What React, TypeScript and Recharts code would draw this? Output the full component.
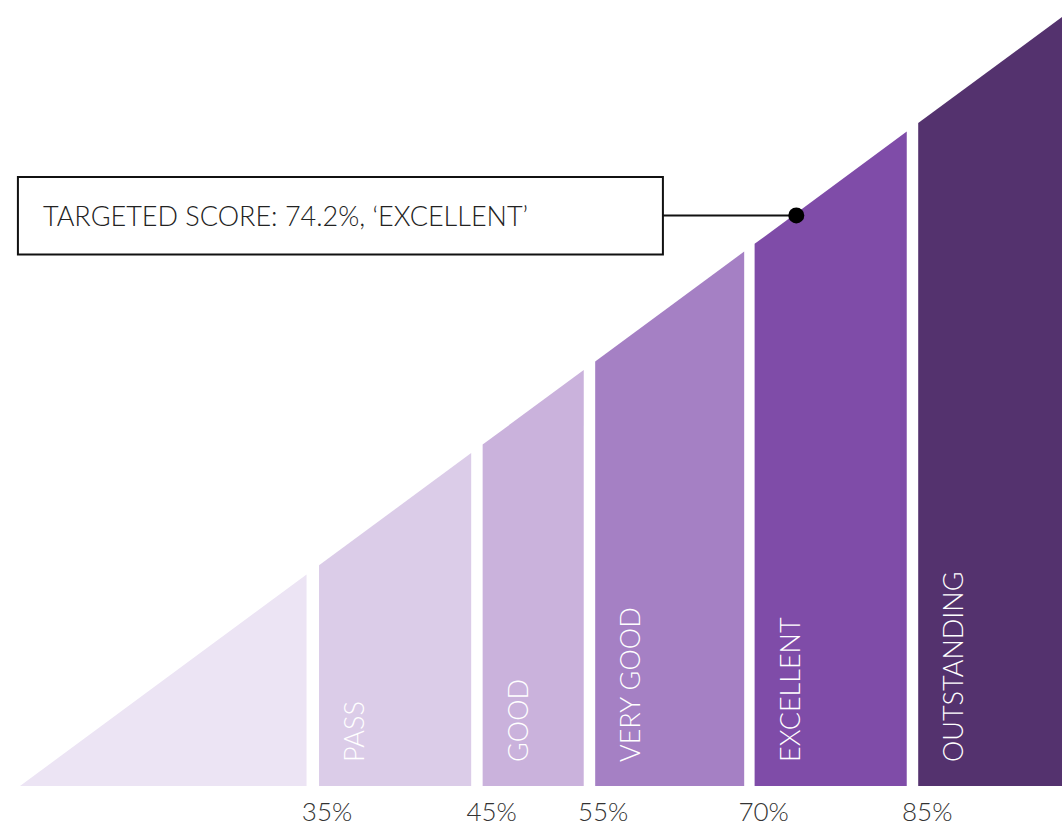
import { ComposedChart, Area, XAxis, YAxis, ReferenceDot, ReferenceLine, ReferenceArea } from 'recharts';

// positions on a 0-100 scale across the width of the triangle
const bandNames = ['', 'PASS', 'GOOD', 'VERY GOOD', 'EXCELLENT', 'OUTSTANDING'];
const bandStart = [0, 28.7, 44.4, 55.2, 70.5, 86.2];
const bandEnd = [27.5, 43.3, 54.1, 69.5, 85.1, 100];
const bandStartTop = [0, 28.7, 44.4, 55.2, 70.5, 86.2];
const bandEndTop = [27.5, 43.3, 54.1, 69.5, 85.1, 100];
const bandColors = ['#ece4f4', '#dbcce8', '#cab2dc', '#a580c4', '#7f4ca8', '#54326e'];

const tickPos = [28.1, 43.9, 54.6, 70.0, 85.7];
const tickLabels = ['35%', '45%', '55%', '70%', '85%'];

const targetPos = 74.5;
const targetScore = 74.2;
const targetText = 'TARGETED SCORE: 74.2%, \u2018EXCELLENT\u2019';
const boxLeft = -0.2;
const boxRight = 61.7;
const boxBottom = 69.1;
const boxTop = 79.2;

const FONT = "Lato, 'Open Sans', sans-serif";

const rows = bandStart.flatMap((s, i) => [
  { pos: s, [`b${i}`]: bandStartTop[i] },
  { pos: bandEnd[i], [`b${i}`]: bandEndTop[i] },
]);

const PercentTick = ({ x, y, payload }) => {
  const idx = tickPos.indexOf(payload.value);
  return (
    <text x={x - 11} y={y} dy={27} textAnchor="start" fontSize={26} fontWeight={300} fontFamily={FONT} fill="#333">
      {tickLabels[idx]}
    </text>
  );
};

const bandLabel = (name) => ({ cx, cy }) => {
  const tx = cx + 45;
  const ty = cy - 24;
  return (
    <text x={tx} y={ty} transform={`rotate(-90 ${tx} ${ty})`} fill="#fff" fontSize={27} fontWeight={300} fontFamily={FONT}>
      {name}
    </text>
  );
};

const BoxLabel = ({ viewBox }) => (
  <text
    x={viewBox.x + 25}
    y={viewBox.y + viewBox.height / 2}
    dy={10}
    fontSize={27}
    fontWeight={300}
    fontFamily={FONT}
    fill="#222"
  >
    {targetText}
  </text>
);

export default function App() {
  return (
    <div style={{ position: 'absolute', left: 0, top: 0, background: '#fff' }}>
      <ComposedChart width={1062} height={829} data={rows} margin={{ top: 17, right: 0, left: 20, bottom: 0 }}>
        <XAxis
          dataKey="pos"
          type="number"
          domain={[0, 100]}
          ticks={tickPos}
          interval={0}
          tick={<PercentTick />}
          axisLine={false}
          tickLine={false}
          height={43}
        />
        <YAxis hide type="number" domain={[0, 100]} />
        {bandNames.map((_, i) => (
          <Area
            key={i}
            dataKey={`b${i}`}
            type="linear"
            fill={bandColors[i]}
            fillOpacity={1}
            stroke="none"
            dot={false}
            activeDot={false}
            connectNulls={false}
            isAnimationActive={false}
          />
        ))}
        {bandNames.map((name, i) =>
          name ? (
            <ReferenceDot key={name} x={bandStart[i]} y={0} r={0} ifOverflow="visible" shape={bandLabel(name)} />
          ) : null
        )}
        <ReferenceArea
          x1={boxLeft}
          x2={boxRight}
          y1={boxBottom}
          y2={boxTop}
          ifOverflow="visible"
          fill="#fff"
          fillOpacity={1}
          stroke="#111"
          strokeWidth={2}
          label={<BoxLabel />}
        />
        <ReferenceLine
          segment={[{ x: boxRight, y: targetScore }, { x: targetPos, y: targetScore }]}
          stroke="#111"
          strokeWidth={2}
        />
        <ReferenceDot x={targetPos} y={targetScore} r={8} fill="#000" stroke="none" />
      </ComposedChart>
    </div>
  );
}
